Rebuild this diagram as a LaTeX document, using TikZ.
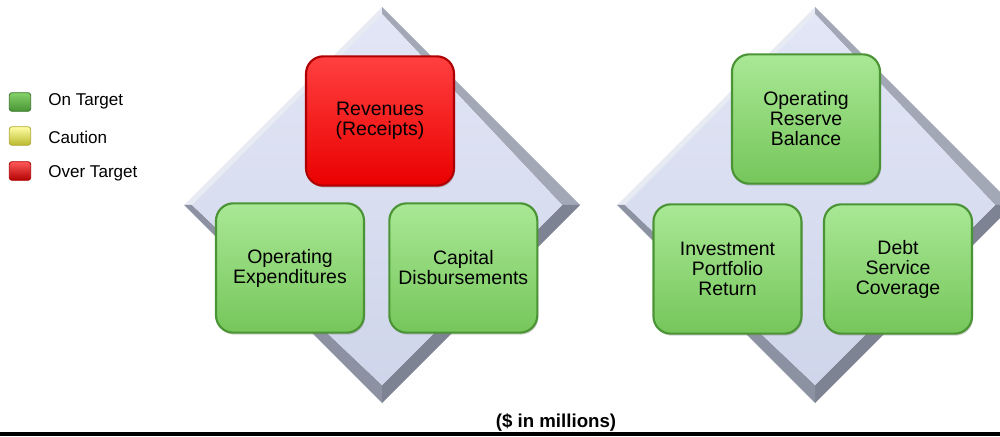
\documentclass[tikz,border=0pt]{standalone}
\usepackage{fontspec}
\setmainfont{Liberation Sans}
\usetikzlibrary{positioning,shadows}

\definecolor{kpitop}{HTML}{A9E895}
\definecolor{kpimid}{HTML}{84D26A}
\definecolor{kpibottom}{HTML}{76C65B}
\definecolor{kpiedge}{HTML}{4A9435}
\definecolor{redtop}{HTML}{FF4040}
\definecolor{redmid}{HTML}{FF0E0E}
\definecolor{redbottom}{HTML}{EA0000}
\definecolor{rededge}{HTML}{AE0000}
\definecolor{facetop}{HTML}{E2E6F6}
\definecolor{facebottom}{HTML}{CFD5EA}
\definecolor{bevlight}{HTML}{E8EBF4}
\definecolor{bevtop}{HTML}{A3A8B6}
\definecolor{bevright}{HTML}{7D8393}
\definecolor{bevleft}{HTML}{8C92A2}

\begin{document}
\begin{tikzpicture}[x=0.75pt,y=0.75pt,on grid,
    kpi/.style={rectangle,rounded corners=13pt,minimum width=111pt,minimum height=97pt,
      line width=1.6pt,inner sep=2pt,align=center,font=\fontsize{14.6}{15}\selectfont,
      drop shadow={shadow xshift=0.8pt,shadow yshift=-1.5pt,opacity=0.35}},
    ontarget/.style={kpi,draw=kpiedge,top color=kpitop,middle color=kpimid,bottom color=kpibottom},
    overtarget/.style={kpi,draw=rededge,top color=redtop,middle color=redmid,bottom color=redbottom},
    swatch/.style={rectangle,rounded corners=2pt,minimum width=16pt,minimum height=14pt,
      line width=0.6pt,inner sep=0pt},
    legend/.style={anchor=west,inner sep=0pt,font=\fontsize{12.8}{14}\selectfont}]
  \useasboundingbox (0,0) rectangle (1000,436);
  \begin{scope}
    \clip (0,0) rectangle (1000,436);
    % bevelled diamonds behind each group
    \foreach \dx in {0,433}{
      \begin{scope}[shift={(\dx,0)}]
        \fill[bevlight] (382,429) -- (184,231) -- (192,231) -- (382,422) -- cycle;
        \fill[bevtop] (382,429) -- (580,231) -- (562,231) -- (382,422) -- cycle;
        \fill[bevright] (580,231) -- (382,33) -- (382,51) -- (562,231) -- cycle;
        \fill[bevleft] (382,33) -- (184,231) -- (192,231) -- (382,51) -- cycle;
        \shade[top color=facetop,bottom color=facebottom]
          (382,422) -- (562,231) -- (382,51) -- (192,231) -- cycle;
      \end{scope}
    }
  \end{scope}

  % legend
  \node[swatch,draw=kpiedge!80!black,top color=kpimid,bottom color=kpiedge] (sw_on) at (20,334) {};
  \node[swatch,draw=olive!70,top color=yellow!35,bottom color=olive!55] (sw_caution) at (20,300) {};
  \node[swatch,draw=rededge,top color=red!65,bottom color=red!70!black] (sw_over) at (20,265) {};
  \node[legend] (l_on) at (48,335) {On Target};
  \node[legend] (l_caution) at (48,299) {Caution};
  \node[legend] (l_over) at (48,263) {Over Target};

  % cash flow group
  \node[overtarget] (rev) at (380,315) {Revenues\\(Receipts)};
  \node[ontarget] (opex) [below left=110.25pt and 67.5pt of rev] {Operating\\Expenditures};
  \node[ontarget] (capex) [right=130pt of opex] {Capital\\Disbursements};

  % balance sheet group
  \node[ontarget] (reserve) at (806,317) {Operating\\Reserve\\Balance};
  \node[ontarget] (invest) [below left=112.5pt and 58.9pt of reserve] {Investment\\Portfolio\\Return};
  \node[ontarget] (debt) [right=127.9pt of invest] {Debt\\Service\\Coverage};

  \node[font=\bfseries\fontsize{14}{16}\selectfont] (units) at (556,13) {(\$ in millions)};
  \fill (0,0) rectangle (1000,4.5);
\end{tikzpicture}
\end{document}
